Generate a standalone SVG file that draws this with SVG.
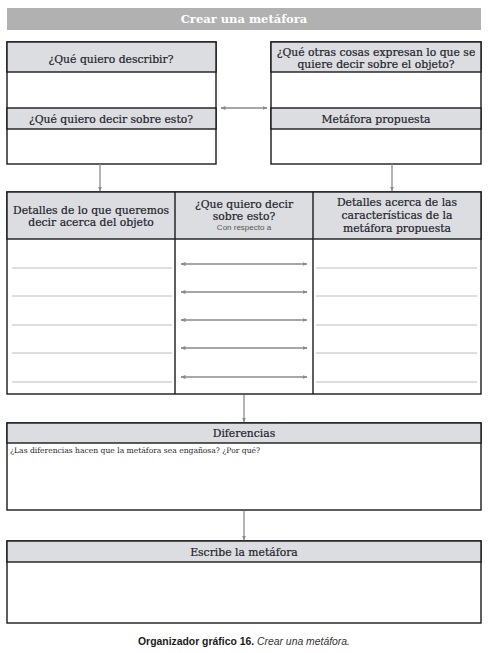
<svg xmlns="http://www.w3.org/2000/svg" width="491" height="653" viewBox="0 0 491 653">
<defs>
<marker id="ah" viewBox="0 0 10 10" refX="9" refY="5" markerWidth="5" markerHeight="5" orient="auto-start-reverse" markerUnits="userSpaceOnUse">
<path d="M0,1 L10,5 L0,9 Z" fill="#8a8a8a"/>
</marker>
</defs>
<style>
.box{fill:#fff;stroke:#1a1a1a;stroke-width:1.4}
.hd{fill:#dcdde0;stroke:#1a1a1a;stroke-width:1.4}
.t{font-family:"DejaVu Serif","Liberation Serif",serif;font-size:10.8px;fill:#1d1d2b;stroke:#1d1d2b;stroke-width:0.2;text-anchor:middle}
.s{font-family:"DejaVu Serif",serif;font-size:7.6px;fill:#1d1d2b}
.cr{font-family:"Liberation Sans",sans-serif;font-size:8px;fill:#555;text-anchor:middle}
.c{stroke:#8a8a8a;stroke-width:1.3;fill:none}
.ln{stroke:#adadad;stroke-width:0.8}
</style>
<rect width="491" height="653" fill="#fff"/>
<g id="title">
<rect x="7" y="8" width="474" height="22" fill="#b1b1b1"/>
<text x="244" y="23" class="t" style="fill:#fff;stroke:none;font-weight:bold;font-size:11.5px">Crear una metáfora</text>
</g>
<g id="left-top">
<rect x="7" y="42" width="209" height="122" class="box"/>
<rect x="7" y="42" width="209" height="30" class="hd"/>
<rect x="7" y="108" width="209" height="21" class="hd"/>
<text x="111" y="63" class="t">¿Qué quiero describir?</text>
<text x="111" y="123" class="t">¿Qué quiero decir sobre esto?</text>
</g>
<g id="right-top">
<rect x="271" y="42" width="210" height="122" class="box"/>
<rect x="271" y="42" width="210" height="30" class="hd"/>
<rect x="271" y="108" width="210" height="21" class="hd"/>
<text x="376" y="56" class="t">¿Qué otras cosas expresan lo que se</text>
<text x="376" y="68" class="t">quiere decir sobre el objeto?</text>
<text x="376" y="123" class="t">Metáfora propuesta</text>
</g>
<g id="table">
<rect x="7" y="192" width="474" height="202" class="box"/>
<rect x="7" y="192" width="474" height="47" class="hd"/>
<line x1="175" y1="192" x2="175" y2="394" stroke="#1a1a1a" stroke-width="1.4"/>
<line x1="313" y1="192" x2="313" y2="394" stroke="#1a1a1a" stroke-width="1.4"/>
<text x="91" y="214" class="t">Detalles de lo que queremos</text>
<text x="91" y="226" class="t">decir acerca del objeto</text>
<text x="244" y="208" class="t">¿Que quiero decir</text>
<text x="244" y="220" class="t">sobre esto?</text>
<text x="244" y="230" class="cr">Con respecto a</text>
<text x="397" y="206" class="t">Detalles acerca de las</text>
<text x="397" y="219" class="t">características de la</text>
<text x="397" y="232" class="t">metáfora propuesta</text>
<g id="lines">
<line x1="12" y1="268" x2="172" y2="268" class="ln"/>
<line x1="12" y1="296" x2="172" y2="296" class="ln"/>
<line x1="12" y1="325" x2="172" y2="325" class="ln"/>
<line x1="12" y1="353" x2="172" y2="353" class="ln"/>
<line x1="12" y1="382" x2="172" y2="382" class="ln"/>
<line x1="316" y1="268" x2="477" y2="268" class="ln"/>
<line x1="316" y1="296" x2="477" y2="296" class="ln"/>
<line x1="316" y1="325" x2="477" y2="325" class="ln"/>
<line x1="316" y1="353" x2="477" y2="353" class="ln"/>
<line x1="316" y1="382" x2="477" y2="382" class="ln"/>
</g>
</g>
<g id="diferencias">
<rect x="7" y="423" width="474" height="87" class="box"/>
<rect x="7" y="423" width="474" height="20" class="hd"/>
<text x="244" y="437" class="t">Diferencias</text>
<text x="10" y="453" class="s">¿Las diferencias hacen que la metáfora sea engañosa? ¿Por qué?</text>
</g>
<g id="escribe">
<rect x="7" y="541" width="474" height="82" class="box"/>
<rect x="7" y="541" width="474" height="21" class="hd"/>
<text x="244" y="556" class="t">Escribe la metáfora</text>
</g>
<g id="connectors">
<line x1="221" y1="108" x2="267" y2="108" class="c" marker-start="url(#ah)" marker-end="url(#ah)"/>
<line x1="100" y1="164" x2="100" y2="191" class="c" marker-end="url(#ah)"/>
<line x1="392" y1="164" x2="392" y2="191" class="c" marker-end="url(#ah)"/>
<line x1="181" y1="264" x2="307" y2="264" class="c" marker-start="url(#ah)" marker-end="url(#ah)"/>
<line x1="181" y1="292" x2="307" y2="292" class="c" marker-start="url(#ah)" marker-end="url(#ah)"/>
<line x1="181" y1="320" x2="307" y2="320" class="c" marker-start="url(#ah)" marker-end="url(#ah)"/>
<line x1="181" y1="348" x2="307" y2="348" class="c" marker-start="url(#ah)" marker-end="url(#ah)"/>
<line x1="181" y1="377" x2="307" y2="377" class="c" marker-start="url(#ah)" marker-end="url(#ah)"/>
<line x1="244" y1="395" x2="244" y2="422" class="c" marker-end="url(#ah)"/>
<line x1="244" y1="511" x2="244" y2="540" class="c" marker-end="url(#ah)"/>
</g>
<g id="caption">
<text x="244" y="645" style="font-family:'Liberation Sans Narrow','Liberation Sans',sans-serif;font-size:10.4px;text-anchor:middle;fill:#1a1a1a"><tspan font-weight="bold">Organizador gráfico 16.</tspan><tspan font-style="italic" fill="#333"> Crear una metáfora.</tspan></text>
</g>
</svg>
